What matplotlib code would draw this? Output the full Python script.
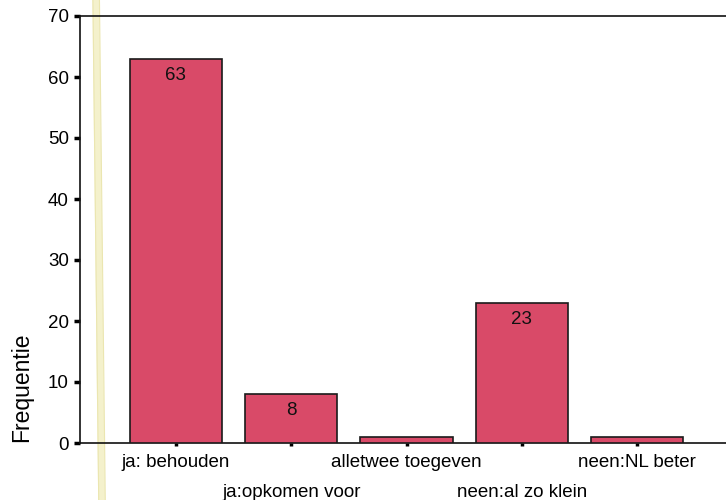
import matplotlib.pyplot as plt
import numpy as np

# data
categories = ["ja: behouden", "ja:opkomen voor", "alletwee toegeven",
              "neen:al zo klein", "neen:NL beter"]
counts = [63, 8, 1, 23, 1]
labelled = [63, 8, None, 23, None]

plt.rcParams['font.family'] = ['Liberation Sans', 'DejaVu Sans']

fig = plt.figure(figsize=(7.26, 5.0), dpi=100)
ax = fig.add_axes([0.110, 0.114, 0.890, 0.854])
ax.patch.set_alpha(0)

x = np.arange(len(categories))
bars = ax.bar(x, counts, width=0.8, color='#d94a68', edgecolor='#1a1a1a',
              linewidth=1.2, zorder=3)

# value labels just inside the top of the bar
for rect, lab in zip(bars, labelled):
    if lab is None:
        continue
    ax.annotate(str(lab), (rect.get_x() + rect.get_width() / 2, rect.get_height()),
                xytext=(0, -12), textcoords='offset points', ha='center', va='center',
                fontsize=13.5, color='#111111', zorder=4)

ax.set_xlim(-0.833, 4.77)
ax.set_ylim(0, 70)
ax.set_yticks(np.arange(0, 71, 10))
ax.set_xticks(x)
ax.set_xticklabels(categories, fontsize=13.5)

ax.spines['right'].set_visible(False)
for s in ['left', 'top', 'bottom']:
    ax.spines[s].set_linewidth(1.2)
    ax.spines[s].set_color('#111111')

ax.tick_params(axis='y', direction='out', length=4, width=2.5, labelsize=13.5, pad=4)
ax.tick_params(axis='x', direction='out', length=2, width=2.5, pad=6)

# staggered category labels
for i, t in enumerate(ax.xaxis.get_major_ticks()):
    if i % 2 == 1:
        t.set_pad(27.5)

fig.text(0.030, 0.225, "Frequentie", rotation=90, fontsize=16.5,
         ha='center', va='center')

# pale yellow scanner streak
fig.add_artist(plt.Line2D([0.132, 0.140], [1.0, 0.0], color='#f4f1cc', lw=5,
                          transform=fig.transFigure, zorder=0))
fig.add_artist(plt.Line2D([0.128, 0.136], [1.0, 0.0], color='#ebe6b0', lw=0.8,
                          transform=fig.transFigure, zorder=0))
fig.add_artist(plt.Line2D([0.137, 0.145], [1.0, 0.0], color='#ebe6b0', lw=0.8,
                          transform=fig.transFigure, zorder=0))

fig.savefig("out.png", dpi=100)
